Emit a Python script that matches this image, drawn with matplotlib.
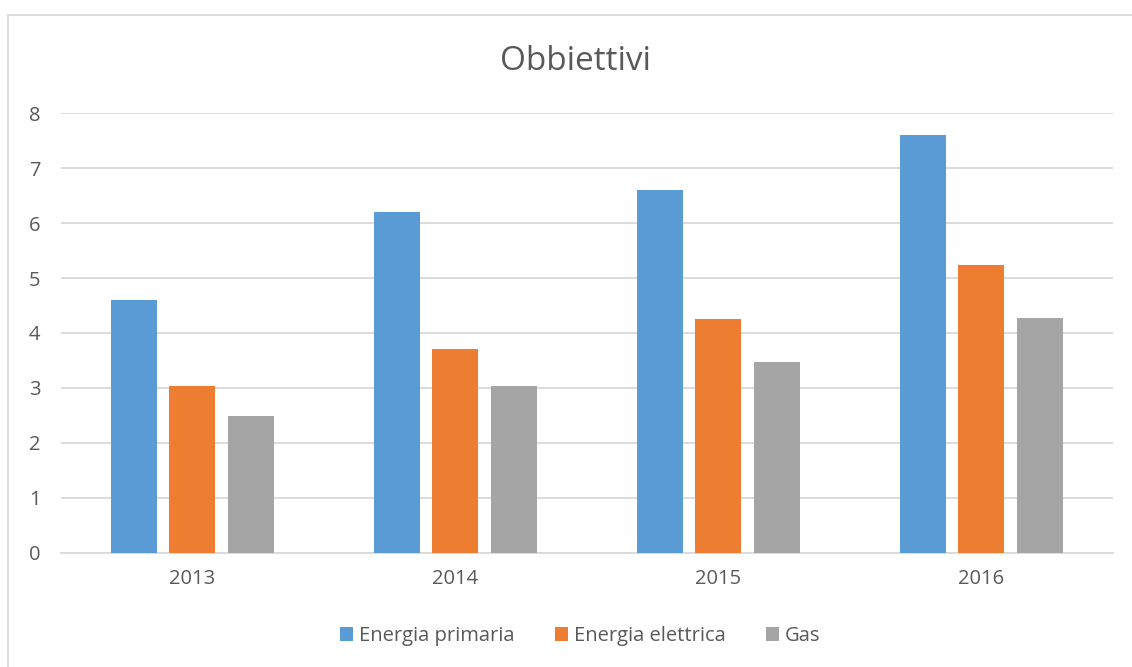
import matplotlib
matplotlib.use("Agg")
import matplotlib.pyplot as plt
from matplotlib.lines import Line2D
from matplotlib.patches import Patch
import numpy as np

plt.rcParams['font.family'] = ['Open Sans', 'DejaVu Sans']

years = ["2013", "2014", "2015", "2016"]
series_names = ["Energia primaria", "Energia elettrica", "Gas"]
energia_primaria = [4.6, 6.2, 6.6, 7.6]
energia_elettrica = [3.03, 3.71, 4.26, 5.23]
gas = [2.48, 3.03, 3.48, 4.28]
colors = ["#5B9BD5", "#ED7D31", "#A5A5A5"]
yticks = [0, 1, 2, 3, 4, 5, 6, 7, 8]

text_color = "#595959"
grid_color = "#D9D9D9"

W, H = 1132, 667
fig = plt.figure(figsize=(W / 100, H / 100), dpi=100)
ax = fig.add_axes([60.7 / W, 1 - 552.7 / H, (1113 - 60.7) / W, (552.7 - 113.3) / H])

x = np.arange(len(years))
bar_w = 46 / 263
step = 58.5 / 263
for i, (vals, c) in enumerate(zip([energia_primaria, energia_elettrica, gas], colors)):
    ax.bar(x + (i - 1) * step, vals, width=bar_w, color=c, zorder=3, label=series_names[i])

ax.set_xlim(-0.5, len(years) - 0.5)
ax.set_ylim(0, 8)
ax.set_yticks(yticks)
ax.set_xticks(x)
ax.set_xticklabels(years)
ax.yaxis.grid(True, color=grid_color, linewidth=1.3, zorder=0)
ax.set_axisbelow(True)
for s in ["top", "right", "left"]:
    ax.spines[s].set_visible(False)
ax.spines["bottom"].set_color(grid_color)
ax.spines["bottom"].set_linewidth(1.3)
ax.tick_params(axis="both", length=0, colors=text_color, labelsize=14.5)
ax.tick_params(axis="x", pad=12)
ax.tick_params(axis="y", pad=23)
for lbl in ax.get_yticklabels():
    lbl.set_horizontalalignment("left")

fig.text(575 / W, 1 - 61 / H, "Obbiettivi", ha="center", va="center",
         fontsize=24, color=text_color)

handles = [Patch(facecolor=c, edgecolor="none") for c in colors]
fig.legend(handles, series_names, loc="center", bbox_to_anchor=(580 / W, 1 - 636 / H),
           ncol=3, frameon=False, fontsize=14.5, labelcolor=text_color,
           handlelength=0.65, handleheight=0.65, handletextpad=0.3, columnspacing=2.0)

# chart frame (top and left edges)
fig.add_artist(Line2D([8 / W, 1], [1 - 15 / H, 1 - 15 / H], color=grid_color, linewidth=1.3))
fig.add_artist(Line2D([8 / W, 8 / W], [1 - 15 / H, 0], color=grid_color, linewidth=1.3))

fig.savefig("out.png", dpi=100)
